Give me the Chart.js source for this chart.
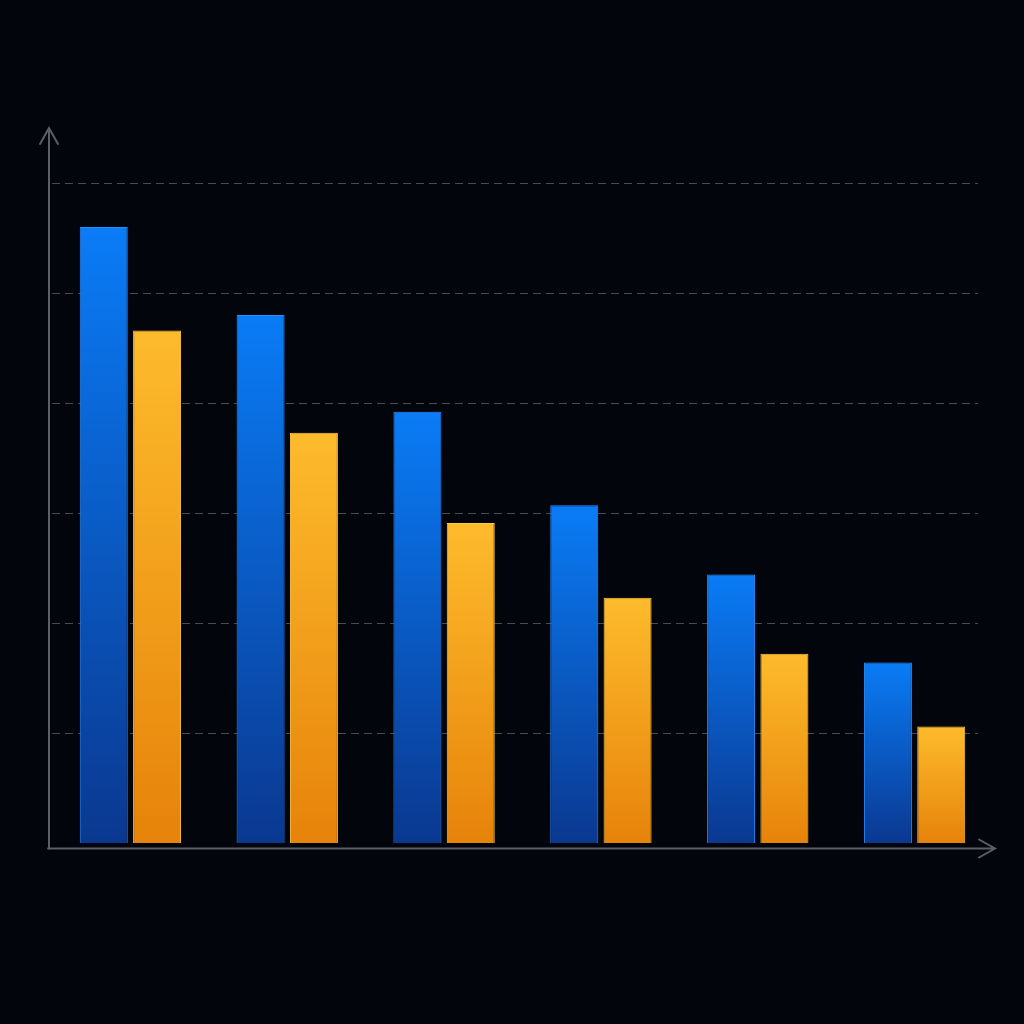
<!DOCTYPE html>
<html>
<head>
<meta charset="utf-8">
<script src="https://cdn.jsdelivr.net/npm/chart.js@4"></script>
<style>
  html, body { margin: 0; padding: 0; background: #03050c; }
  #wrap { width: 1024px; height: 1024px; }
</style>
</head>
<body>
<div id="wrap"><canvas id="barChart" width="1024" height="1024"></canvas></div>
<script>
// Data (no labels shown in the original)
var categories = ['A', 'B', 'C', 'D', 'E', 'F'];
var blueValues = [56, 48, 39.2, 30.7, 24.4, 16.4];
var orangeValues = [46.6, 37.3, 29.1, 22.3, 17.2, 10.6];
var gridValues = [10, 20, 30, 40, 50, 60];

function barGradient(ctx, topColor, bottomColor) {
    var chart = ctx.chart;
    var yScale = chart.scales.y;
    if (!chart.chartArea || !yScale || ctx.parsed === undefined) {
        return topColor;
    }
    var top = yScale.getPixelForValue(ctx.parsed.y);
    var bottom = yScale.getPixelForValue(0);
    var g = chart.ctx.createLinearGradient(0, top, 0, bottom);
    g.addColorStop(0, topColor);
    g.addColorStop(1, bottomColor);
    return g;
}

// grid lines + axes with arrow heads
var axesPlugin = {
    id: 'axesPlugin',
    beforeDatasetsDraw: function (chart) {
        var c = chart.ctx;
        var y = chart.scales.y;
        var area = chart.chartArea;
        c.save();
        c.strokeStyle = 'rgba(120, 124, 134, 0.6)';
        c.lineWidth = 1;
        c.setLineDash([8, 5]);
        gridValues.forEach(function (v) {
            var py = Math.round(y.getPixelForValue(v)) + 0.5;
            c.beginPath();
            c.moveTo(area.left, py);
            c.lineTo(area.right - 15, py);
            c.stroke();
        });
        c.restore();
    },
    afterDraw: function (chart) {
        var c = chart.ctx;
        var area = chart.chartArea;
        var ax = area.left - 3;
        var ay = area.bottom + 5.5;
        c.save();
        c.strokeStyle = '#5c5f66';
        c.lineWidth = 2;
        c.lineCap = 'round';
        // y axis
        c.beginPath();
        c.moveTo(ax, ay);
        c.lineTo(ax, area.top);
        c.moveTo(ax - 9, area.top + 16);
        c.lineTo(ax, area.top);
        c.lineTo(ax + 9, area.top + 16);
        c.stroke();
        // x axis
        c.beginPath();
        c.moveTo(ax - 1, ay);
        c.lineTo(area.right + 2, ay);
        c.moveTo(area.right - 14, ay - 9);
        c.lineTo(area.right + 2, ay);
        c.lineTo(area.right - 14, ay + 9);
        c.stroke();
        c.restore();
    }
};

var barCtx = document.getElementById('barChart').getContext('2d');
var barChart = new Chart(barCtx, {
    type: 'bar',
    data: {
        labels: categories,
        datasets: [{
            label: 'Series 1',
            data: blueValues,
            backgroundColor: function (ctx) { return barGradient(ctx, '#0a7cf6', '#0a3890'); },
            borderColor: '#2a8cff',
            borderWidth: 1,
            barPercentage: 0.9,
            categoryPercentage: 0.68
        }, {
            label: 'Series 2',
            data: orangeValues,
            backgroundColor: function (ctx) { return barGradient(ctx, '#fdbb2c', '#e6830a'); },
            borderColor: '#ffc842',
            borderWidth: 1,
            barPercentage: 0.9,
            categoryPercentage: 0.68
        }]
    },
    options: {
        responsive: false,
        animation: false,
        layout: {
            padding: { left: 52, right: 31, top: 128, bottom: 181 }
        },
        scales: {
            x: { display: false },
            y: { display: false, min: 0, max: 65 }
        },
        plugins: {
            legend: { display: false },
            tooltip: { enabled: false }
        }
    },
    plugins: [axesPlugin]
});
</script>
</body>
</html>
